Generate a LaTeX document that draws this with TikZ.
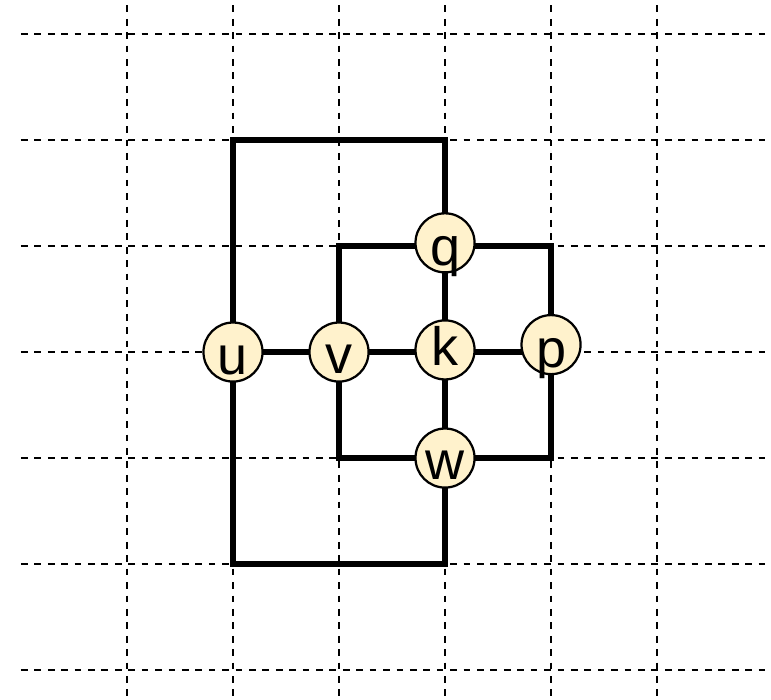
\documentclass[tikz,border=0pt]{standalone}
\usepackage{fontspec}
\setmainfont{Liberation Sans}
\definecolor{nodefill}{RGB}{255,242,204}
\begin{document}
\begin{tikzpicture}[
  gridline/.style={line width=0.45pt, dash pattern=on 1.8pt off 1.8pt},
  edge/.style={line width=1.45pt, line join=miter},
  vertex/.style={circle, draw, line width=0.6pt, fill=nodefill, minimum size=0.557cm,
    inner sep=0pt, text height=#1, text depth=0pt, font=\fontsize{14.5}{14.5}\selectfont}
]
\useasboundingbox (-2.198,-3.274) rectangle (5.075,3.321);
% grid
\foreach \y in {-3,...,3} \draw[gridline] (-2,\y) -- (5.02,\y);
\foreach \x in {-1,...,4} \draw[gridline] (\x,3.27) -- (\x,-3.3);
% grid points of the vertices and bends
\coordinate (gu) at (0,0);
\coordinate (gv) at (1,0);
\coordinate (gk) at (2,0);
\coordinate (gp) at (3,0);
\coordinate (gq) at (2,1);
\coordinate (gw) at (2,-1);
\coordinate (c1) at (0,2);
\coordinate (c2) at (2,2);
\coordinate (c3) at (0,-2);
\coordinate (c4) at (2,-2);
\coordinate (c5) at (1,1);
\coordinate (c6) at (3,1);
\coordinate (c7) at (1,-1);
\coordinate (c8) at (3,-1);
% edges
\draw[edge] (gu) -- (gv) -- (gk) -- (gp);
\draw[edge] (gq) -- (gk) -- (gw);
\draw[edge] (gu) -- (c1) -- (c2) -- (gq);
\draw[edge] (gu) -- (c3) -- (c4) -- (gw);
\draw[edge] (gv) -- (c5) -- (gq) -- (c6) -- (gp);
\draw[edge] (gv) -- (c7) -- (gw) -- (c8) -- (gp);
% nodes
\node[vertex=12.2pt] (u) at (0,0) {u};
\node[vertex=11.4pt] (v) at (1,0) {v};
\node[vertex=8.6pt] (k) at (2,0.02) {k};
\node[vertex=12.4pt] (p) at (3,0.07) {p};
\node[vertex=12.2pt] (q) at (2,1.03) {q};
\node[vertex=11.6pt] (w) at (2,-1) {w};
\end{tikzpicture}
\end{document}
